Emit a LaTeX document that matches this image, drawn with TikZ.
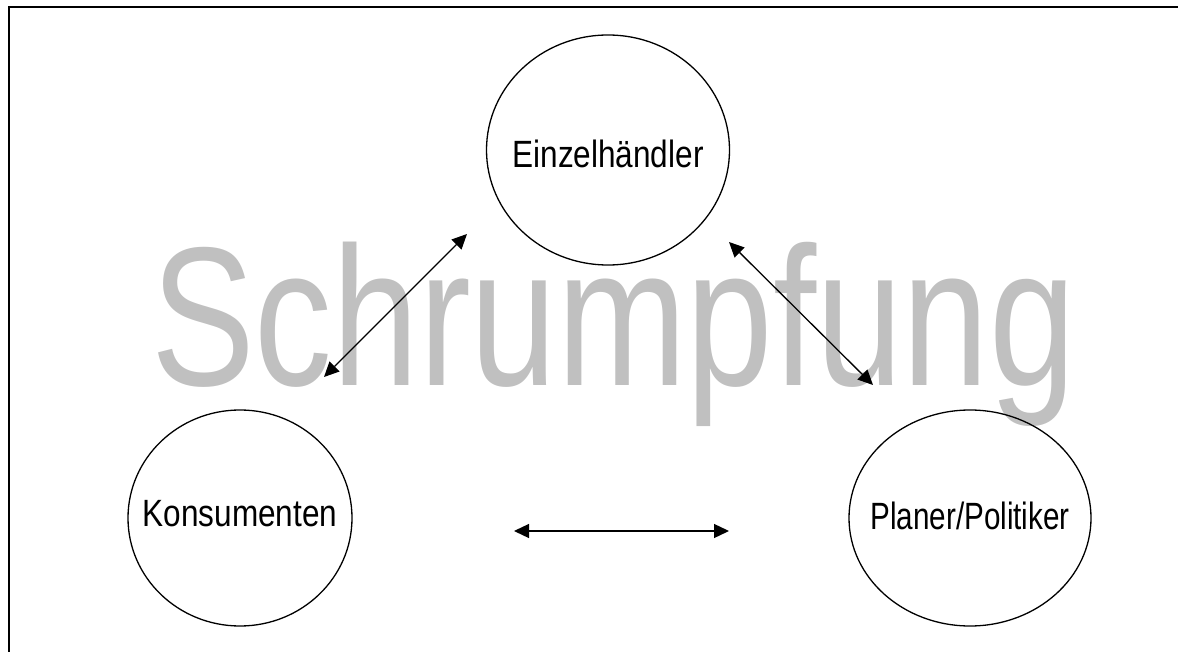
\documentclass[tikz,border=0pt]{standalone}
\usepackage{fontspec}
\setmainfont{Liberation Sans}
\usetikzlibrary{arrows.meta,shapes.geometric}
\definecolor{markgray}{RGB}{192,192,192}
\newcommand{\narrowtext}[2][0.83]{\scalebox{#1}[1]{#2}}
\tikzset{
  actor/.style={draw, ellipse, line width=1.3pt, inner sep=0pt},
  actortext/.style={inner sep=0pt, font=\fontsize{38}{40}\selectfont,
    text height=27.5pt, text depth=0pt},
  link/.style={line width=1.3pt,
    {Triangle[length=15pt,width=14pt]}-{Triangle[length=15pt,width=14pt]}},
  frameline/.style={line width=2pt},
}
\begin{document}
\begin{tikzpicture}[x=1pt, y=-1pt]
\useasboundingbox (0,0) rectangle (1178,652);

% frame (top and left edges)
\coordinate (fbl) at (9,652);
\coordinate (ftl) at (9,7);
\coordinate (ftr) at (1178,7);
\draw[frameline] (fbl) -- (ftl) -- (ftr);

% background word
\node[anchor=base west, inner sep=0pt, text=markgray,
      font=\fontsize{198}{200}\selectfont] (mark) at (151,385)
      {\scalebox{0.785}[1]{Schrumpfung}};

% actors
\node[actor, minimum width=243pt, minimum height=230pt] (einz) at (608,150) {};
\node[actor, minimum width=224pt, minimum height=216pt] (kons) at (240,518) {};
\node[actor, minimum width=242pt, minimum height=216pt] (plan) at (970,518) {};
\node[actortext] (einzt) at ([yshift=-3.5pt]einz.center) {\narrowtext{Einzelhändler}};
\node[actortext] (konst) at ([yshift=5pt]kons.center) {\narrowtext{Konsumenten}};
\node[actortext] (plant) at ([yshift=2.5pt]plan.center) {\narrowtext[0.78]{Planer/Politiker}};

% relations
\coordinate (kl) at (324,377);
\coordinate (ke) at (467,234);
\coordinate (ep) at (729,242);
\coordinate (pe) at (873,385);
\coordinate (hl) at (514,531);
\coordinate (hr) at (729,531);
\draw[link] (kl) -- (ke);
\draw[link] (ep) -- (pe);
\draw[link] (hl) -- (hr);
\end{tikzpicture}
\end{document}
